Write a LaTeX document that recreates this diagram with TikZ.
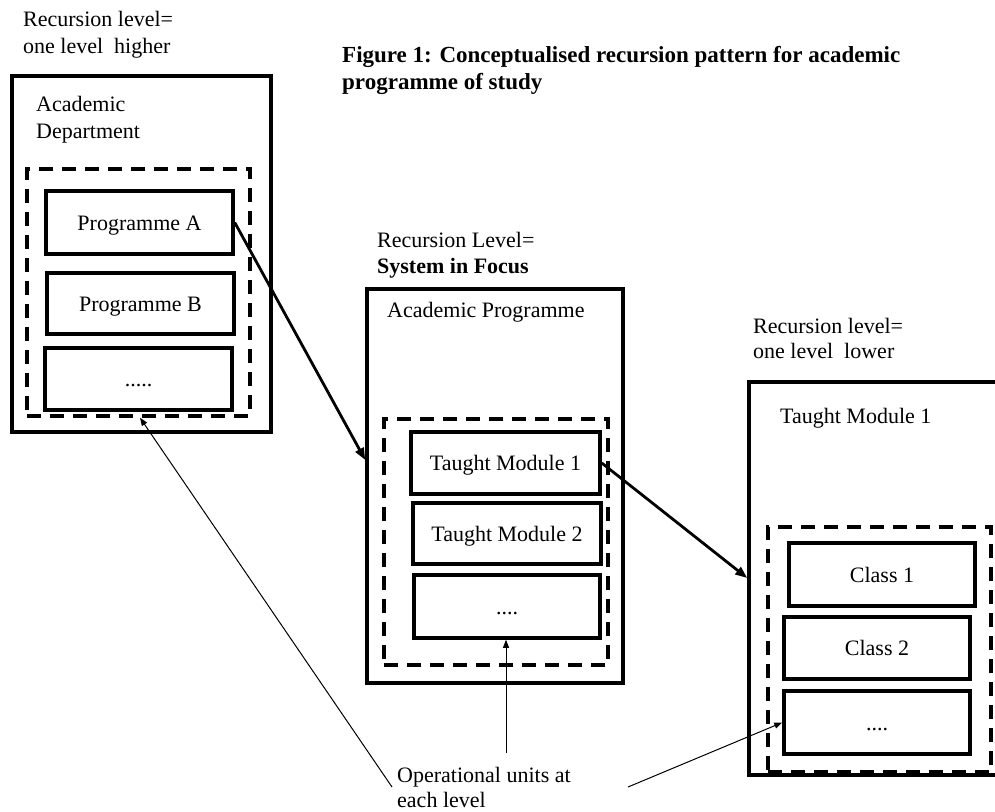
\documentclass[tikz,border=0pt]{standalone}
\usepackage{fontspec}
\setmainfont{Liberation Serif}
\usetikzlibrary{arrows.meta,calc}
\begin{document}
\begin{tikzpicture}[x=1pt,y=-1pt,
  every node/.style={font=\fontsize{22}{27}\selectfont, inner sep=0pt},
  txt/.style={anchor=base west},
  boldtxt/.style={anchor=base west, font=\fontsize{22}{27}\selectfont\bfseries},
  titletxt/.style={anchor=base west, font=\fontsize{23}{28}\selectfont\bfseries},
  frame/.style={draw, line width=3.5pt},
  dashframe/.style={draw, line width=3.5pt, dash pattern=on 14pt off 9pt},
  unit/.style={draw, line width=3.5pt, text height=15pt, text depth=0pt},
  bigarrow/.style={line width=2.8pt, -{Triangle[length=12pt,width=9pt]}},
  thinarrow/.style={line width=1pt, -{Triangle[length=8pt,width=6pt]}},
]
\fill[white] (0,0) rectangle (995,811);
\clip (0,0) rectangle (995,811);
\useasboundingbox (0,0) rectangle (995,811);

% ---------- left group ----------
\node[txt] (rl1) at (23,27) {Recursion level=};
\node[txt] (rl2) at (23,53) {one level\ \ higher};
\node[frame, minimum width=259pt, minimum height=356pt] (outerA) at (141.5,254) {};
\node[txt] (ad1) at (36,111) {Academic};
\node[txt] (ad2) at (36,138) {Department};
\node[dashframe, minimum width=223pt, minimum height=247pt] (dashA) at (138.5,292.5) {};
\node[unit, minimum width=187pt, minimum height=63pt] (progA) at (139.5,222.5) {Programme A};
\node[unit, minimum width=187pt, minimum height=61pt] (progB) at (140.5,303.5) {Programme B};
\node[unit, minimum width=187pt, minimum height=62pt] (progC) at (138.5,379) {.....};

% ---------- title ----------
\node[titletxt] (title1) at (342,62) {Figure 1: Conceptualised recursion pattern for academic};
\node[titletxt] (title2) at (342,89) {programme of study};

% ---------- middle group ----------
\node[txt] (rm1) at (377,247) {Recursion Level=};
\node[boldtxt] (rm2) at (377,273) {System in Focus};
\node[frame, minimum width=256pt, minimum height=394pt] (outerB) at (495,486) {};
\node[txt] (ap) at (387,317) {Academic Programme};
\node[dashframe, minimum width=224pt, minimum height=246pt] (dashB) at (496,542) {};
\node[unit, minimum width=189pt, minimum height=62pt] (tm1) at (505.5,463) {Taught Module 1};
\node[unit, minimum width=188pt, minimum height=61pt] (tm2) at (507,533.5) {Taught Module 2};
\node[unit, minimum width=186pt, minimum height=63pt] (tm3) at (507,606.5) {....};

% ---------- right group ----------
\node[txt] (rr1) at (753,333) {Recursion level=};
\node[txt] (rr2) at (753,358) {one level\ \ lower};
\node[frame, minimum width=261pt, minimum height=393pt] (outerC) at (879.5,578.5) {};
\node[txt] (tmr) at (780,423) {Taught Module 1};
\node[dashframe, minimum width=223pt, minimum height=245pt] (dashC) at (879.5,649.5) {};
\node[unit, minimum width=186pt, minimum height=63pt] (c1) at (882,574.5) {Class 1};
\node[unit, minimum width=186pt, minimum height=62pt] (c2) at (877,648) {Class 2};
\node[unit, minimum width=186pt, minimum height=63pt] (c3) at (877,722.5) {....};

% ---------- bottom label ----------
\node[txt] (op1) at (397,782) {Operational units at};
\node[txt] (op2) at (397,807) {each level};

% ---------- connectors ----------
\draw[bigarrow] (progA.east) -- (outerB.west |- 0,460);
\draw[bigarrow] (tm1.east) -- (outerC.west |- 0,578);
\coordinate (s1) at (392,787);
\coordinate (s2) at (506,753);
\coordinate (s3) at (628,787);
\draw[thinarrow] (s1) -- (dashA.south -| 140,0);
\draw[thinarrow] (s2) -- (tm3.south -| s2);
\draw[thinarrow] (s3) -- (c3.west);
\end{tikzpicture}
\end{document}
